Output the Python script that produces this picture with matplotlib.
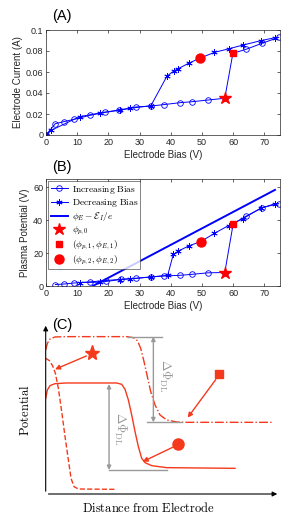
import matplotlib
matplotlib.use("Agg")
import matplotlib.pyplot as plt

plt.rcParams['font.family'] = ['Liberation Sans', 'DejaVu Sans']
plt.rcParams['mathtext.fontset'] = 'cm'

# (A) electrode current vs bias
inc_v = [0, 3.0, 5.7, 9.1, 14.2, 18.9, 23.5, 28.9, 33.7, 37.9, 43.0, 46.8, 51.9, 57.3, 59.9, 64.1, 69.2, 74.6]
inc_I = [0, 0.0108, 0.0127, 0.015, 0.0188, 0.0216, 0.0235, 0.0267, 0.0276, 0.029, 0.0308, 0.0317, 0.0333, 0.035, 0.0778, 0.0816, 0.0873, 0.093]
dec_v = [73.4, 68.8, 63.2, 58.7, 54.0, 49.4, 45.7, 42.4, 41.0, 38.8, 33.6, 27.0, 23.7, 17.3, 10.8, 1.7, 0]
dec_I = [0.0927, 0.0898, 0.0857, 0.0822, 0.0787, 0.0733, 0.0683, 0.0632, 0.061, 0.0562, 0.0278, 0.0255, 0.024, 0.021, 0.0175, 0.0045, 0]
pts_A = {'star': (57.3, 0.035), 'square': (59.9, 0.0778), 'circle': (49.4, 0.0733)}

# (B) plasma potential vs bias
incB_v = [3.0, 5.8, 8.9, 14.0, 19.1, 24.0, 28.9, 33.7, 37.9, 43.1, 46.8, 51.9, 57.3, 60.0, 64.0, 69.3, 74.6]
incB_phi = [0.9, 1.2, 1.8, 2.5, 3.3, 4.1, 4.7, 5.5, 6.1, 6.5, 7.1, 8.0, 8.2, 37.8, 42.3, 47.6, 50.0]
decB_v = [73.4, 68.8, 63.2, 58.5, 54.0, 49.6, 45.7, 42.4, 40.8, 39.0, 33.6, 27.0, 23.8, 17.4, 10.8]
decB_phi = [50.0, 47.2, 41.0, 36.7, 32.0, 27.0, 24.3, 21.2, 19.2, 6.5, 5.5, 4.3, 3.9, 2.3, 2.1]
ion_v = [15.0, 73.4]
ion_phi = [0.0, 58.4]
pts_B = {'star': (57.3, 8.2), 'square': (60.0, 37.8), 'circle': (49.6, 27.0)}

# (C) schematic potential profiles (distance, potential), arbitrary units
sq_d = [0, 5, 13, 28, 63, 243, 263, 275, 285, 295, 305, 315, 328, 343, 363, 393, 423, 683]
sq_u = [432, 452, 465, 471, 472, 472, 469, 460, 437, 397, 352, 307, 267, 237, 222, 216, 215, 215]
st_d = [0, 11, 21, 29, 38, 48, 58, 68, 76, 85, 98, 208]
st_u = [407, 400, 384, 362, 317, 247, 172, 102, 47, 22, 15, 14]
ci_d = [0, 5, 13, 28, 63, 213, 228, 238, 248, 258, 268, 278, 288, 298, 318, 363, 568]
ci_u = [287, 312, 325, 331, 333, 333, 329, 314, 282, 237, 187, 142, 107, 94, 85, 79, 77]

blue = '#0000ff'
red = '#ff0000'
orange = '#f5391c'
gray = '#999999'

fig = plt.figure(figsize=(2.87, 5.2), dpi=100)


def style_axes(ax):
    ax.tick_params(direction='in', length=2.5, width=0.5, top=True, right=True,
                   labelsize=6.5, colors='#262626', pad=2)
    for s in ax.spines.values():
        s.set_linewidth(0.5)
        s.set_color('#262626')


def plot_marks(ax, pts):
    ax.plot(*pts['star'], marker='*', color=red, ms=9, ls='none', zorder=5)
    ax.plot(*pts['square'], marker='s', color=red, ms=5, ls='none', zorder=5)
    ax.plot(*pts['circle'], marker='o', color=red, ms=6.5, ls='none', zorder=5)


# panel A
axA = fig.add_axes([46 / 287, 1 - 135 / 520, 234 / 287, 105 / 520])
axA.plot(inc_v, inc_I, '-o', color=blue, lw=0.7, ms=4, mfc='none', mew=0.6)
axA.plot(dec_v, dec_I, '-', marker=(6, 2, 0), color=blue, lw=0.7, ms=4.5, mew=0.6)
plot_marks(axA, pts_A)
axA.set_xlim(0, 75)
axA.set_ylim(0, 0.1)
axA.set_xticks(range(0, 71, 10))
axA.set_yticks([0, 0.02, 0.04, 0.06, 0.08, 0.1])
axA.set_yticklabels(['0', '0.02', '0.04', '0.06', '0.08', '0.1'])
style_axes(axA)
axA.set_xlabel('Electrode Bias (V)', fontsize=7, color='#262626', labelpad=2)
axA.set_ylabel('Electrode Current (A)', fontsize=7, color='#262626', labelpad=2)
fig.text(62 / 287, 1 - 16 / 520, '(A)', fontsize=10.5, ha='center', va='center')

# panel B
axB = fig.add_axes([46 / 287, 1 - 286 / 520, 234 / 287, 107 / 520])
axB.plot(incB_v, incB_phi, '-o', color=blue, lw=0.7, ms=4, mfc='none', mew=0.6,
         label=r'$\mathrm{Increasing\ Bias}$')
axB.plot(decB_v, decB_phi, '-', marker=(6, 2, 0), color=blue, lw=0.7, ms=4.5, mew=0.6,
         label=r'$\mathrm{Decreasing\ Bias}$')
axB.plot(ion_v, ion_phi, '-', color=blue, lw=1.4, label=r'$\phi_E-\mathcal{E}_I/e$')
axB.plot(*pts_B['star'], marker='*', color=red, ms=9, ls='none', zorder=5, label=r'$\phi_{p,0}$')
axB.plot(*pts_B['square'], marker='s', color=red, ms=5, ls='none', zorder=5,
         label=r'$(\phi_{p,1},\phi_{E,1})$')
axB.plot(*pts_B['circle'], marker='o', color=red, ms=6.5, ls='none', zorder=5,
         label=r'$(\phi_{p,2},\phi_{E,2})$')
axB.set_xlim(0, 75)
axB.set_ylim(0, 65)
axB.set_xticks(range(0, 71, 10))
axB.set_yticks([0, 20, 40, 60])
style_axes(axB)
axB.set_xlabel('Electrode Bias (V)', fontsize=7, color='#262626', labelpad=2)
axB.set_ylabel('Plasma Potential (V)', fontsize=7, color='#262626', labelpad=2)
leg = axB.legend(loc='upper left', fontsize=6.8, frameon=True, fancybox=False,
                 edgecolor='#262626', borderpad=0.25, labelspacing=0.12,
                 handlelength=1.8, handletextpad=0.4, borderaxespad=0.25)
leg.get_frame().set_linewidth(0.5)
fig.text(62 / 287, 1 - 167 / 520, '(B)', fontsize=10.5, ha='center', va='center')

# panel C
axC = fig.add_axes([45.7 / 287, 26 / 520, 235 / 287, 171.7 / 520])
axC.set_xlim(0, 705)
axC.set_ylim(0, 515)
axC.axis('off')
axC.annotate('', xy=(703, 0), xytext=(0, 0),
             arrowprops=dict(arrowstyle='-|>', color='black', lw=0.8, mutation_scale=7))
axC.annotate('', xy=(0, 513), xytext=(0, 0),
             arrowprops=dict(arrowstyle='-|>', color='black', lw=0.8, mutation_scale=7))
axC.plot(sq_d, sq_u, '-.', color=orange, lw=1.0)
axC.plot(st_d, st_u, '--', color=orange, lw=1.0)
axC.plot(ci_d, ci_u, '-', color=orange, lw=1.0)

# gray double-layer annotations
axC.plot([248, 348], [472, 472], color=gray, lw=1.0)
axC.plot([303, 408], [215, 215], color=gray, lw=1.0)
axC.annotate('', xy=(323, 472), xytext=(323, 215),
             arrowprops=dict(arrowstyle='<|-|>', color=gray, lw=1.0, mutation_scale=6,
                             shrinkA=0, shrinkB=0))
axC.plot([190, 363], [72, 72], color=gray, lw=1.0)
axC.annotate('', xy=(190, 330), xytext=(190, 72),
             arrowprops=dict(arrowstyle='<|-|>', color=gray, lw=1.0, mutation_scale=6,
                             shrinkA=0, shrinkB=0))
axC.text(358, 355, r'$\Delta\Phi_{\mathrm{DL}}$', rotation=-90, color=gray,
         fontsize=9, ha='center', va='center')
axC.text(223, 195, r'$\Delta\Phi_{\mathrm{DL}}$', rotation=-90, color=gray,
         fontsize=9, ha='center', va='center')

# markers with pointers
axC.plot(140, 422, marker='*', color=orange, ms=11, ls='none')
axC.annotate('', xy=(28, 374), xytext=(122, 414),
             arrowprops=dict(arrowstyle='-|>', color=orange, lw=1.0, mutation_scale=7,
                             shrinkA=0, shrinkB=0))
axC.plot(520, 359, marker='s', color=orange, ms=6, ls='none')
axC.annotate('', xy=(426, 229), xytext=(510, 343),
             arrowprops=dict(arrowstyle='-|>', color=orange, lw=1.0, mutation_scale=7,
                             shrinkA=0, shrinkB=0))
axC.plot(398, 150, marker='o', color=orange, ms=8, ls='none')
axC.annotate('', xy=(291, 97), xytext=(385, 142),
             arrowprops=dict(arrowstyle='-|>', color=orange, lw=1.0, mutation_scale=7,
                             shrinkA=0, shrinkB=0))

fig.text(62 / 287, 1 - 325 / 520, '(C)', fontsize=10.5, ha='center', va='center')
fig.text(25 / 287, 1 - 410 / 520, r'$\mathrm{Potential}$', rotation=90, fontsize=9,
         ha='center', va='center')
fig.text(148 / 287, 1 - 508 / 520, r'$\mathrm{Distance\ from\ Electrode}$', fontsize=9,
         ha='center', va='center')

fig.savefig('out.png', dpi=100)
